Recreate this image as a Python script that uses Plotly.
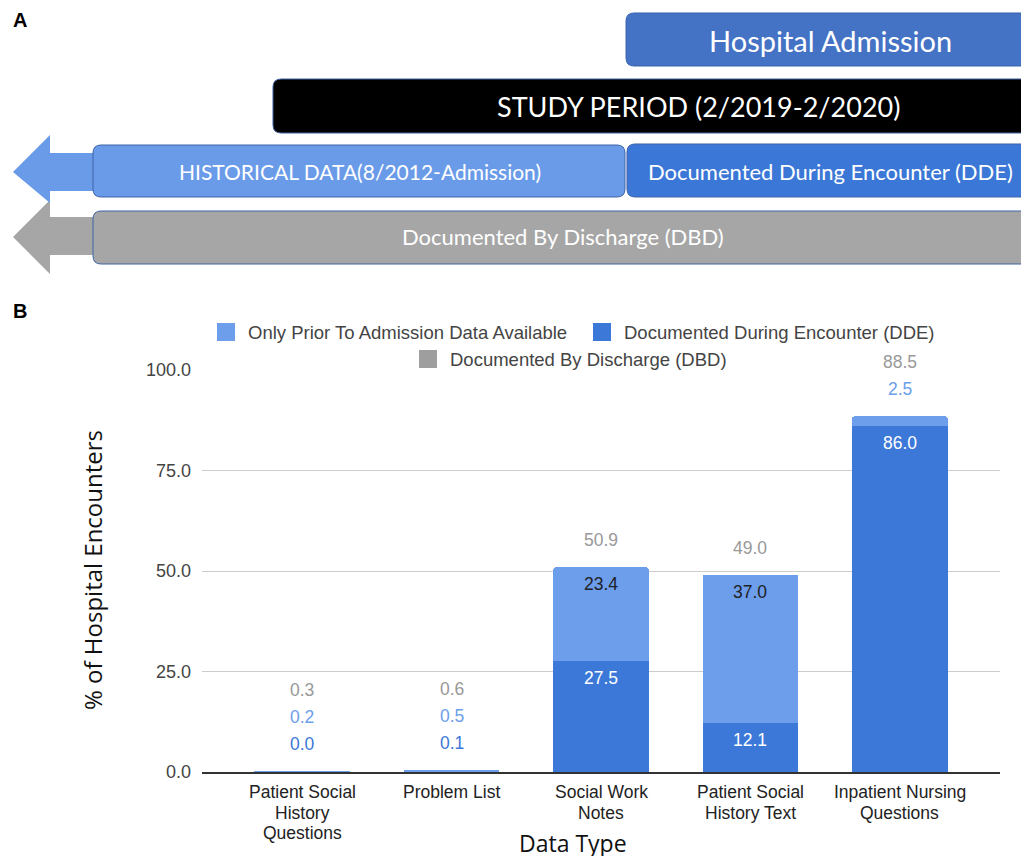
import plotly.graph_objects as go

# ---------------- data ----------------
categories = ["Patient Social<br>History<br>Questions", "Problem List",
              "Social Work<br>Notes", "Patient Social<br>History Text",
              "Inpatient Nursing<br>Questions"]
dde_values = [0.0, 0.1, 27.5, 12.1, 86.0]          # Documented During Encounter
prior_values = [0.2, 0.5, 23.4, 37.0, 2.5]        # Only prior to admission
dbd_totals = [0.3, 0.6, 50.9, 49.0, 88.5]         # Documented By Discharge
y_ticks = [0, 25, 50, 75, 100]

legend_names = ["Only Prior To Admission Data Available",
                "Documented During Encounter (DDE)",
                "Documented By Discharge (DBD)"]

C_DDE = "#3c78d8"
C_PRIOR = "#6d9eeb"
C_DBD = "#a6a6a6"

OFF = 8                       # page body margin in the browser
W, H = 1029 - OFF, 860 - OFF
L, R, T, B = 202, 1000, 370, 772   # plot area in reference pixels


def px(x):
    return (x - L) / (R - L)


def py(y):
    return (B - y) / (B - T)


fig = go.Figure()
fig.add_trace(go.Bar(x=categories, y=dde_values, name=legend_names[1],
                     marker=dict(color=C_DDE, line=dict(width=0)), width=0.64,
                     showlegend=False, hoverinfo="y"))
fig.add_trace(go.Bar(x=categories, y=prior_values, name=legend_names[0],
                     marker=dict(color=C_PRIOR, line=dict(width=0)), width=0.64,
                     showlegend=False, hoverinfo="y"))

shapes = []
annotations = []

# ---------------- bar value labels ----------------
FONT = "Arial, 'Liberation Sans', sans-serif"
LSIZE = 17.5
for i, cat in enumerate(categories):
    top_dde = dde_values[i]
    top_stack = dde_values[i] + prior_values[i]
    slot = 0
    segs = [(dde_values[i], top_dde, C_DDE, "#ffffff"),
            (prior_values[i], top_stack, C_PRIOR, "#202124")]
    for val, top, col, incol in segs:
        if val >= 5:
            annotations.append(dict(x=cat, y=top, xref="x", yref="y",
                                    text=f"{val:.1f}", showarrow=False,
                                    yanchor="middle", yshift=-17,
                                    font=dict(family=FONT, size=LSIZE, color=incol)))
        else:
            slot += 1
            annotations.append(dict(x=cat, y=top_stack, xref="x", yref="y",
                                    text=f"{val:.1f}", showarrow=False,
                                    yanchor="middle", yshift=27 * slot,
                                    font=dict(family=FONT, size=LSIZE, color=col)))
    slot += 1
    annotations.append(dict(x=cat, y=top_stack, xref="x", yref="y",
                            text=f"{dbd_totals[i]:.1f}", showarrow=False,
                            yanchor="middle", yshift=27 * slot, bgcolor="white",
                            borderpad=0,
                            font=dict(family=FONT, size=LSIZE, color="#999999")))

# ---------------- category labels (tight line spacing) ----------------
for cat in categories:
    for k, line in enumerate(cat.split("<br>")):
        annotations.append(dict(x=cat, y=0, xref="x", yref="y", text=line,
                                showarrow=False, yanchor="middle", borderpad=0,
                                yshift=-(20 + 20.5 * k),
                                font=dict(family=FONT, size=17.5, color="#222222")))

# ---------------- manual legend ----------------
leg = [(217, 332, C_PRIOR, legend_names[0]),
       (593, 332, C_DDE, legend_names[1]),
       (419, 359, "#9e9e9e", legend_names[2])]
for x0, yc, col, name in leg:
    shapes.append(dict(type="rect", xref="paper", yref="paper",
                       x0=px(x0), x1=px(x0 + 18), y0=py(yc - 9), y1=py(yc + 9),
                       fillcolor=col, line=dict(width=0), layer="above"))
    annotations.append(dict(x=px(x0 + 29), y=py(yc), xref="paper", yref="paper",
                            text=name, showarrow=False, xanchor="left",
                            yanchor="middle",
                            font=dict(family=FONT, size=18.5, color="#444444")))


# ---------------- panel A diagram ----------------
def P(x, y):
    return f"{px(x):.5f},{py(y):.5f}"


def rrect(x0, y0, x1, y1, r=8):
    return ("M" + P(x0 + r, y0) + " L" + P(x1 - r, y0) + " Q" + P(x1, y0) + " " + P(x1, y0 + r) +
            " L" + P(x1, y1 - r) + " Q" + P(x1, y1) + " " + P(x1 - r, y1) +
            " L" + P(x0 + r, y1) + " Q" + P(x0, y1) + " " + P(x0, y1 - r) +
            " L" + P(x0, y0 + r) + " Q" + P(x0, y0) + " " + P(x0 + r, y0) + " Z")


def arrow(tip_y, tri_top, tri_bot, sh_top, sh_bot, x_tip=13, x_base=50, x_end=96):
    return ("M" + P(x_tip, tip_y) + " L" + P(x_base, tri_top) + " L" + P(x_base, sh_top) +
            " L" + P(x_end, sh_top) + " L" + P(x_end, sh_bot) + " L" + P(x_base, sh_bot) +
            " L" + P(x_base, tri_bot) + " Z")


EDGE = "#3f64a8"
# gray arrow + box
shapes.append(dict(type="path", xref="paper", yref="paper",
                   path=arrow(237, 200, 274, 217, 255), fillcolor=C_DBD,
                   line=dict(width=0)))
shapes.append(dict(type="path", xref="paper", yref="paper",
                   path=rrect(93, 211, 1040, 264), fillcolor=C_DBD,
                   line=dict(color=EDGE, width=1)))
# blue arrow + historical box
shapes.append(dict(type="path", xref="paper", yref="paper",
                   path=arrow(172, 135, 203, 153, 191), fillcolor="#6a9be8",
                   line=dict(width=0)))
shapes.append(dict(type="path", xref="paper", yref="paper",
                   path=rrect(93, 145, 625, 197), fillcolor="#6a9be8",
                   line=dict(color=EDGE, width=1)))
# DDE box
shapes.append(dict(type="path", xref="paper", yref="paper",
                   path=rrect(627, 144, 1040, 197), fillcolor="#3b77d6",
                   line=dict(color=EDGE, width=1)))
# study period
shapes.append(dict(type="path", xref="paper", yref="paper",
                   path=rrect(273, 79, 1040, 133), fillcolor="#000000",
                   line=dict(color=EDGE, width=1)))
# hospital admission
shapes.append(dict(type="path", xref="paper", yref="paper",
                   path=rrect(626, 13, 1040, 66), fillcolor="#4472c4",
                   line=dict(color="#3a64b0", width=1)))

DFONT = "Lato, 'Open Sans', sans-serif"
diag_text = [(830, 40, "Hospital Admission", 29),
             (698, 107, "STUDY PERIOD (2/2019-2/2020)", 27),
             (360, 172, "HISTORICAL DATA(8/2012-Admission)", 21),
             (830, 172, "Documented During Encounter (DDE)", 22),
             (563, 237, "Documented By Discharge (DBD)", 22)]
for x, y, t, s in diag_text:
    annotations.append(dict(x=px(x), y=py(y), xref="paper", yref="paper", text=t,
                            showarrow=False, xanchor="center", yanchor="middle",
                            font=dict(family=DFONT, size=s, color="white")))

# panel letters
annotations.append(dict(x=px(11), y=py(20), xref="paper", yref="paper", text="<b>A</b>",
                        showarrow=False, xanchor="left", yanchor="middle",
                        font=dict(family="Arial, sans-serif", size=20, color="black")))
annotations.append(dict(x=px(11), y=py(311), xref="paper", yref="paper", text="<b>B</b>",
                        showarrow=False, xanchor="left", yanchor="middle",
                        font=dict(family="Arial, sans-serif", size=20, color="black")))

# axis titles
annotations.append(dict(x=px(92), y=py(570), xref="paper", yref="paper",
                        text="% of Hospital Encounters", textangle=-90, showarrow=False,
                        xanchor="center", yanchor="middle",
                        font=dict(family="'Open Sans', sans-serif", size=24, color="#111111")))
annotations.append(dict(x=px(573), y=py(843), xref="paper", yref="paper",
                        text="Data Type", showarrow=False,
                        xanchor="center", yanchor="middle", height=26, borderpad=0,
                        font=dict(family="'Open Sans', sans-serif", size=23, color="#111111")))

fig.update_layout(
    width=W, height=H,
    margin=dict(l=L - OFF, r=W - (R - OFF), t=T - OFF, b=H - (B - OFF), pad=0),
    barmode="stack", barcornerradius=3,
    plot_bgcolor="white", paper_bgcolor="white",
    shapes=shapes, annotations=annotations,
    showlegend=False,
    xaxis=dict(range=[-0.67, 4.67], showgrid=False, showline=True, linecolor="#333333",
               linewidth=1.5, ticks="", showticklabels=False, zeroline=False),
    yaxis=dict(range=[0, 100], tickvals=y_ticks, tickformat=".1f", showgrid=True,
               gridcolor="#cccccc", gridwidth=1, zeroline=False, showline=False,
               ticks="", ticklen=0, ticklabelstandoff=10,
               tickfont=dict(family=FONT, size=18, color="#444444")),
)

fig.write_html("out.html")
